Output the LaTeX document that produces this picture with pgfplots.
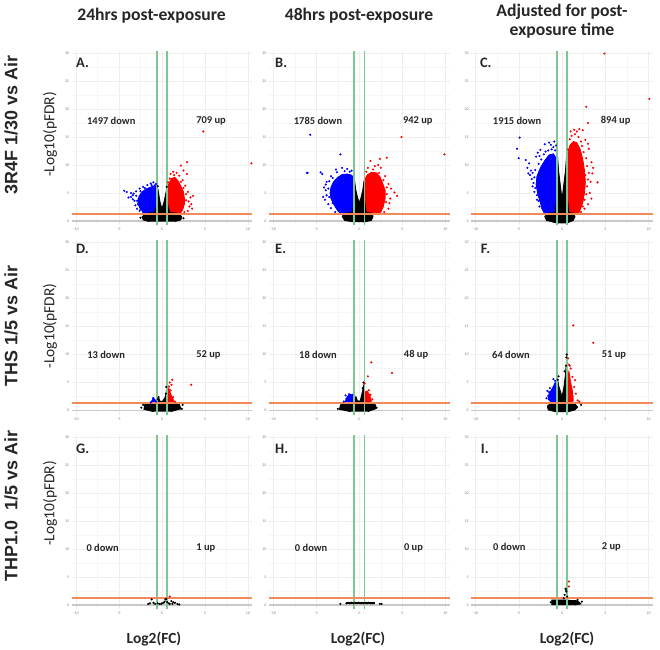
\documentclass[border=0pt]{standalone}
\usepackage{pgfplots}
\pgfplotsset{compat=1.18}
\usepackage{fontspec}
\setmainfont{Carlito}
\newfontfamily\arialb{Liberation Sans}
\definecolor{vgreen}{RGB}{125,200,145}
\definecolor{vorange}{RGB}{242,138,90}
\definecolor{vbase}{RGB}{200,200,200}
\definecolor{vblue}{RGB}{0,0,255}
\definecolor{vred}{RGB}{255,0,0}
\pgfplotsset{
 panel/.style={anchor=south west, x=8.6bp, y=5.6bp,
  xmin=-10.5, xmax=10.5, ymin=-0.8, ymax=30.4,
  axis line style={draw=none}, major tick length=0pt, minor tick length=0pt,
  xtick={-10,-5,0,5,10}, ytick={0,5,10,15,20,25,30},
  minor xtick={-7.5,-2.5,2.5,7.5}, minor ytick={2.5,7.5,12.5,17.5,22.5,27.5},
  grid=both, major grid style={gray!13, line width=0.5bp}, minor grid style={gray!7, line width=0.4bp},
  ticklabel style={font=\fontsize{4}{4}\selectfont, text=gray},
  /pgf/number format/assume math mode=true,
  xticklabel style={yshift=1bp}, yticklabel style={xshift=1bp},
  clip=false},
 bpt/.style={only marks, mark=*, mark size=0.85bp, color=vblue},
 rpt/.style={only marks, mark=*, mark size=0.85bp, color=vred},
 kpt/.style={only marks, mark=*, mark size=0.85bp, color=black},
 bf/.style={fill=vblue, draw=vblue, line width=0.8bp},
 rf/.style={fill=vred, draw=vred, line width=0.8bp},
 kf/.style={fill=black, draw=black, line width=0.8bp}
}
\tikzset{
 cnt/.style={font=\bfseries\fontsize{10.5}{10.5}\selectfont, text=black!85},
 plet/.style={font=\bfseries\fontsize{14.5}{14.5}\selectfont, anchor=west, inner sep=0pt, text=black!85}
}
\newcommand{\baseln}{\addplot[draw=vbase, line width=1.8bp, no marks] coordinates {(-10.5,0)(10.5,0)};}
\newcommand{\guides}{%
 \addplot[draw=vgreen, line width=1.6bp, no marks] coordinates {(-0.585,-0.8)(-0.585,30.4)};
 \addplot[draw=vgreen, line width=1.6bp, no marks] coordinates {(0.585,-0.8)(0.585,30.4)};
 \addplot[draw=vorange, line width=1.6bp, no marks] coordinates {(-10.5,1.3)(10.5,1.3)};}
\begin{document}
\begin{tikzpicture}
\path (0bp,0bp) rectangle (660bp,647bp);
% ---------------- A
\begin{axis}[panel, at={(71.7bp,421.5bp)}]
\baseln
\addplot[bf] coordinates {(-0.58,1.3)(-0.58,6.0)(-0.9,6.3)(-1.4,6.0)(-1.9,5.7)(-2.3,5.2)(-2.6,4.6)(-2.8,3.9)(-2.8,3.1)(-2.6,2.4)(-2.3,1.8)(-1.9,1.3)};
\addplot[bpt] coordinates {(-4.4,5.4)(-4.1,5.2)(-3.6,5.0)(-3.9,4.2)(-3.4,4.6)(-3.2,3.6)(-3.4,3.9)(-3.1,2.8)(-2.9,2.2)(-2.6,1.8)(-3.3,4.9)(-3.0,5.3)(-2.6,5.8)(-2.2,6.1)(-1.7,6.4)(-1.3,6.7)(-1.0,6.9)(-0.7,6.6)(-2.8,3.0)(-2.5,2.1)(-2.2,1.6)(-3.6,4.3)(-3.0,4.5)(-2.9,3.6)(-2.5,5.3)(-2.0,5.9)(-1.2,6.4)(-0.8,6.4)};
\addplot[rf] coordinates {(0.58,1.3)(0.58,5.6)(0.8,6.7)(1.1,7.6)(1.5,7.8)(1.9,7.1)(2.2,6.2)(2.5,5.2)(2.6,4.1)(2.6,3.0)(2.4,2.0)(2.1,1.3)};
\addplot[rpt] coordinates {(2.2,9.9)(2.9,10.5)(2.9,8.4)(3.6,4.5)(3.3,4.2)(3.1,3.5)(3.2,2.6)(3.0,1.8)(2.6,1.6)(2.4,7.3)(2.7,6.3)(3.0,5.2)(1.3,8.8)(1.7,8.6)(2.0,8.1)(1.0,8.4)(3.4,3.0)(3.5,2.2)(4.8,16)(10.4,10.3)(2.5,9.0)(0.9,7.6)(2.8,4.8)(2.8,3.7)(2.2,7.0)(1.4,8.2)(0.7,6.9)(2.5,5.9)};
\addplot[kf] coordinates {(-1.5,-0.1)(-2.2,0.2)(-2.3,0.8)(-1.8,1.4)(-0.9,1.5)(-0.6,3)(-0.55,6.3)(-0.4,5.0)(-0.2,3.2)(-0.05,2.5)(0.05,2.5)(0.2,3.2)(0.45,5.0)(0.58,6.0)(0.65,3)(0.9,1.5)(1.8,1.4)(2.3,0.8)(2.2,0.2)(1.5,-0.1)};
\addplot[kpt] coordinates {(-2.5,0.6)(2.5,0.5)(-0.5,6.2)(0.55,6.1)};
\guides
\node[plet] at (axis cs:-10,28.3) {A.};
\node[cnt] at (axis cs:-5.9,17.9) {1497 down};
\node[cnt] at (axis cs:5.7,17.9) {709 up};
\end{axis}
% ---------------- B
\begin{axis}[panel, at={(269bp,421.5bp)}]
\baseln
\addplot[bf] coordinates {(-0.58,1.3)(-0.58,7.6)(-0.9,8.2)(-1.4,8.4)(-2.0,8.3)(-2.5,7.8)(-3.0,7.0)(-3.3,6.0)(-3.4,5.0)(-3.3,4.0)(-2.9,2.8)(-2.5,1.8)(-2.1,1.3)};
\addplot[bpt] coordinates {(-5.7,15.4)(-2.2,11.9)(-6.1,8.6)(-6.0,8.6)(-4.5,8.7)(-4.3,8.4)(-4.2,4.3)(-3.9,6.5)(-3.9,5.5)(-4.0,3.8)(-3.6,3.0)(-3.3,2.3)(-2.8,1.6)(-3.3,8.0)(-2.7,9.2)(-2.0,9.5)(-1.4,9.3)(-0.9,9.0)(-3.8,7.0)(-4.1,6.0)(-3.8,4.6)(-3.5,7.1)(-3.6,5.8)(-3.5,4.3)(-3.1,3.2)(-2.6,8.7)(-1.7,8.9)(-1.1,8.8)(-3.1,7.7)};
\addplot[rf] coordinates {(0.58,1.3)(0.58,7.2)(0.9,8.2)(1.4,8.7)(2.0,8.6)(2.4,7.9)(2.7,6.8)(3.0,5.5)(3.0,4.0)(2.8,2.6)(2.5,1.6)(2.2,1.3)};
\addplot[rpt] coordinates {(1.3,10.7)(2.4,11.1)(3.2,11.3)(3.7,5.8)(4.1,5.1)(4.4,4.5)(4.9,15)(9.9,11.9)(3.5,3.2)(3.4,2.2)(2.9,1.6)(3.4,6.6)(3.0,8.0)(2.5,9.5)(1.8,9.8)(1.0,9.5)(3.6,4.0)(2.2,10.0)(3.2,4.8)(3.2,6.0)(2.8,7.3)(2.3,8.6)(1.6,9.2)(0.8,8.8)(3.1,3.4)};
\addplot[kf] coordinates {(-0.5,-0.2)(-1.7,0.1)(-2.0,0.8)(-1.7,1.4)(-0.8,1.5)(-0.62,3.5)(-0.55,7.2)(-0.4,5.5)(-0.2,4.2)(-0.05,3.5)(0.05,3.5)(0.2,4.2)(0.4,5.5)(0.55,7.2)(0.62,3.5)(0.8,1.5)(1.5,1.4)(1.6,0.8)(1.4,0.1)(0.5,-0.2)};
\guides
\node[plet] at (axis cs:-9.8,28.3) {B.};
\node[cnt] at (axis cs:-4.8,17.9) {1785 down};
\node[cnt] at (axis cs:6.8,17.9) {942 up};
\end{axis}
% ---------------- C
\begin{axis}[panel, at={(471.2bp,421.5bp)}, x=8.65bp]
\baseln
\addplot[bf] coordinates {(-0.58,1.3)(-0.58,11.0)(-1.0,12.0)(-1.5,11.8)(-2.0,10.8)(-2.5,9.5)(-2.9,8.0)(-3.0,6.5)(-2.8,4.8)(-2.5,3.2)(-2.2,1.8)(-2.0,1.3)};
\addplot[bpt] coordinates {(-4.9,14.9)(-5.2,12.9)(-5.0,11.2)(-4.2,10.9)(-3.8,10.3)(-3.6,9.0)(-3.7,8.2)(-3.5,7.5)(-3.4,6.2)(-3.2,5.2)(-2.9,3.8)(-2.6,2.6)(-3.0,11.5)(-2.5,12.7)(-2.0,13.7)(-1.5,14.0)(-0.9,14.2)(-2.8,12.2)(-4.0,9.5)(-3.9,8.5)(-1.2,12.8)(-1.6,12.6)(-2.1,11.9)(-2.4,11.0)(-2.7,10.2)(-3.1,9.1)(-3.2,7.8)(-3.3,6.8)(-3.1,5.9)(-2.9,4.6)(-2.7,3.6)(-0.8,12.6)(-1.0,13.2)(-1.9,12.4)(-2.3,2.3)(-0.7,13.5)(-3.4,8.6)(-2.6,11.6)(-1.3,13.6)};
\addplot[rf] coordinates {(0.58,1.3)(0.58,11.5)(0.9,13.5)(1.3,14.2)(1.7,14.0)(2.1,12.8)(2.4,11.0)(2.6,9.0)(2.7,7.0)(2.6,5.0)(2.4,3.3)(2.1,2.0)(1.9,1.3)};
\addplot[rpt] coordinates {(3.1,12.9)(4.1,6.9)(2.8,20.4)(3.0,17.5)(4.9,29.9)(10.1,21.8)(3.4,10.5)(3.5,8.5)(3.3,7.0)(3.2,5.0)(3.0,3.0)(2.6,2.2)(2.4,16.2)(2.0,16.4)(1.4,16.3)(1.0,16.0)(2.7,14.5)(3.6,9.5)(3.4,4.0)(3.0,13.8)(1.1,15.2)(1.5,15.5)(1.9,15.0)(2.2,14.2)(2.5,12.3)(2.8,11.2)(2.9,9.8)(3.1,8.6)(3.0,7.4)(2.9,6.2)(2.8,4.8)(2.6,3.8)(2.4,2.6)(0.9,14.6)(1.7,16.0)(2.3,13.4)(0.7,12.8)(2.7,8.2)(2.2,1.6)};
\addplot[kf] coordinates {(-0.5,-0.4)(-1.8,0.1)(-2.0,0.8)(-1.6,1.4)(-0.8,1.5)(-0.62,4)(-0.55,12.3)(-0.4,9)(-0.2,6.5)(-0.05,4.5)(0.05,4.5)(0.2,6.5)(0.4,9)(0.55,12.3)(0.62,4)(0.8,1.5)(1.3,1.4)(1.5,0.8)(1.3,0.1)(0.5,-0.4)};
\guides
\node[plet] at (axis cs:-9.5,28.3) {C.};
\node[cnt] at (axis cs:-5.2,17.9) {1915 down};
\node[cnt] at (axis cs:6.2,17.9) {894 up};
\end{axis}
% ---------------- D
\begin{axis}[panel, at={(71.7bp,232bp)}]
\baseln
\addplot[kf] coordinates {(-1.0,-0.2)(-2.1,0.2)(-2.0,1.2)(-1.3,1.5)(-0.6,1.6)(-0.4,2.3)(-0.2,1.6)(0.1,1.7)(0.4,2.5)(0.5,3.5)(0.58,4.1)(0.65,1.6)(1.5,1.4)(2.0,1.2)(2.2,0.3)(1.0,-0.2)};
\addplot[kpt] coordinates {(-2.4,0.5)(2.4,1.0)(2.3,0.3)(-2.2,1.0)(0.5,4.2)(0.45,3.0)(-0.4,2.4)(-0.5,2.0)};
\addplot[bf] coordinates {(-1.2,1.4)(-1.05,2.3)(-0.85,2.0)(-0.6,1.4)};
\addplot[bpt] coordinates {(-1.2,1.6)(-1.0,2.2)(-0.9,1.9)(-0.7,1.6)(-1.3,1.4)};
\addplot[rf] coordinates {(0.62,1.3)(0.65,3.5)(0.8,4.0)(1.0,3.0)(1.3,2.0)(1.4,1.3)};
\addplot[rpt] coordinates {(0.9,5.0)(1.2,5.5)(1.1,4.6)(3.4,4.6)(0.8,4.3)(1.5,1.6)(1.3,2.4)(1.0,3.6)};
\guides
\node[plet] at (axis cs:-10,28.8) {D.};
\node[cnt] at (axis cs:-6.5,9.9) {13 down};
\node[cnt] at (axis cs:5.4,9.9) {52 up};
\end{axis}
% ---------------- E
\begin{axis}[panel, at={(269bp,232bp)}]
\baseln
\addplot[kf] coordinates {(-1.0,-0.2)(-2.3,0.2)(-2.2,1.0)(-1.6,1.5)(-0.6,1.5)(-0.4,2.5)(-0.2,1.7)(0.1,1.7)(0.3,3.0)(0.55,4.7)(0.65,1.8)(1.3,1.4)(1.9,1.0)(1.9,0.3)(1.0,-0.2)};
\addplot[kpt] coordinates {(-2.5,0.3)(2.0,0.5)(0.5,5.0)(0.4,4.0)};
\addplot[bf] coordinates {(-1.7,1.4)(-1.4,2.5)(-1.0,2.9)(-0.65,2.5)(-0.62,1.4)};
\addplot[bpt] coordinates {(-1.6,2.7)(-1.2,2.9)(-0.8,2.8)(-1.8,1.6)(-1.5,2.1)};
\addplot[rf] coordinates {(0.62,1.3)(0.65,3.3)(0.9,3.5)(1.2,2.8)(1.4,1.7)(1.3,1.3)};
\addplot[rpt] coordinates {(0.62,4.8)(1.0,6.1)(1.4,8.6)(3.8,6.7)(1.3,2.8)(1.5,2.0)(1.1,3.6)};
\guides
\node[plet] at (axis cs:-9.8,28.8) {E.};
\node[cnt] at (axis cs:-4.8,9.9) {18 down};
\node[cnt] at (axis cs:6.6,9.9) {48 up};
\end{axis}
% ---------------- F
\begin{axis}[panel, at={(471.2bp,232bp)}, x=8.65bp]
\baseln
\addplot[kf] coordinates {(-0.5,-0.3)(-1.6,0.1)(-1.7,0.8)(-1.3,1.3)(-0.6,1.5)(-0.55,6.0)(-0.4,4.5)(-0.2,3.5)(0.0,2.5)(0.2,4.0)(0.4,6.5)(0.55,9.7)(0.62,5.0)(0.7,1.5)(1.5,1.2)(1.8,0.6)(1.5,0.1)(0.5,-0.3)};
\addplot[kpt] coordinates {(2.2,1.0)(0.5,9.5)(0.45,8.0)(0.3,7.0)(-0.4,6.1)(-0.5,5.5)(0.55,10.0)};
\addplot[bf] coordinates {(-0.62,1.4)(-0.65,4.5)(-0.8,5.0)(-1.1,4.0)(-1.5,3.0)(-1.6,2.0)(-1.2,1.4)};
\addplot[bpt] coordinates {(-1.7,3.5)(-1.6,2.6)(-1.4,4.0)(-1.0,5.6)(-0.8,5.3)(-1.8,2.2)(-1.3,2.0)(-1.5,3.3)};
\addplot[rf] coordinates {(0.62,1.3)(0.65,6.0)(0.8,7.0)(1.0,5.0)(1.2,3.5)(1.3,1.8)(1.1,1.3)};
\addplot[rpt] coordinates {(1.3,15.2)(3.6,12.1)(0.7,9.3)(0.8,8.2)(1.0,7.5)(1.2,6.0)(1.5,5.4)(1.4,4.2)(1.6,3.0)(1.8,1.8)(2.0,1.6)(1.2,2.5)(0.9,8.0)};
\guides
\node[plet] at (axis cs:-9.4,28.8) {F.};
\node[cnt] at (axis cs:-5.9,10.0) {64 down};
\node[cnt] at (axis cs:6.0,10.0) {51 up};
\end{axis}
% ---------------- G
\begin{axis}[panel, at={(71.7bp,37.5bp)}]
\baseln
\addplot[kpt] coordinates {(-1.6,0.2)(-1.2,1.0)(-1.0,0.4)(-0.8,0.2)(-0.5,0.3)(-0.3,0.2)(0.0,0.3)(0.2,0.4)(0.4,1.0)(0.5,1.1)(0.6,0.5)(0.8,0.3)(1.1,0.7)(1.3,0.5)(1.5,0.4)(1.8,0.2)(2.0,0.1)(-1.4,0.3)(0.3,0.6)(-0.1,0.2)(0.9,0.2)(1.2,0.2)};
\addplot[rpt] coordinates {(0.9,1.5)};
\guides
\node[plet] at (axis cs:-10,27.9) {G.};
\node[cnt] at (axis cs:-6.9,10.2) {0 down};
\node[cnt] at (axis cs:5.1,10.2) {1 up};
\end{axis}
% ---------------- H
\begin{axis}[panel, at={(269bp,37.5bp)}]
\baseln
\addplot[kf] coordinates {(-1.5,0.1)(-1.5,0.5)(1.8,0.5)(1.8,0.1)};
\addplot[kpt] coordinates {(-2.2,0.2)(-1.5,0.3)(-1.3,0.4)(-1.1,0.3)(-0.9,0.4)(-0.7,0.3)(-0.5,0.4)(-0.3,0.3)(-0.1,0.4)(0.1,0.3)(0.3,0.4)(0.5,0.3)(0.7,0.4)(0.9,0.3)(1.1,0.4)(1.3,0.3)(1.5,0.3)(1.7,0.3)(2.4,0.2)(2.6,0.2)};
\guides
\node[plet] at (axis cs:-9.8,27.9) {H.};
\node[cnt] at (axis cs:-5.6,10.2) {0 down};
\node[cnt] at (axis cs:6.3,10.2) {0 up};
\end{axis}
% ---------------- I
\begin{axis}[panel, at={(471.2bp,37.5bp)}, x=8.65bp]
\baseln
\addplot[kf] coordinates {(-1.0,0.0)(-1.2,0.1)(-1.2,0.9)(0.6,0.9)(1.0,0.8)(1.6,0.8)(2.0,0.5)(2.2,0.2)(1.5,0.0)};
\addplot[kpt] coordinates {(0.45,2.7)(0.4,2.9)(0.3,1.8)(0.5,2.4)(1.8,0.9)(2.3,0.6)(-1.3,0.5)(0.2,1.2)(0.6,1.5)};
\addplot[rpt] coordinates {(0.8,4.2)(0.8,3.3)};
\guides
\node[plet] at (axis cs:-9.4,27.9) {I.};
\node[cnt] at (axis cs:-6.1,10.3) {0 down};
\node[cnt] at (axis cs:5.7,10.3) {2 up};
\end{axis}
% ---------------- outer texts
\begin{scope}[every node/.style={text=black!85}]
\node[font=\bfseries\fontsize{17.7}{17.7}\selectfont] at (151.5bp,631bp) {24hrs post-exposure};
\node[font=\bfseries\fontsize{17.7}{17.7}\selectfont] at (359bp,631bp) {48hrs post-exposure};
\node[font=\bfseries\fontsize{17.7}{19.5}\selectfont, align=center] at (562bp,626bp) {Adjusted for post-\\exposure time};
\node[font=\arialb\bfseries\fontsize{18}{18}\selectfont, rotate=90] at (11bp,522bp) {3R4F 1/30 vs Air};
\node[font=\arialb\bfseries\fontsize{18}{18}\selectfont, rotate=90] at (11bp,321bp) {THS 1/5 vs Air};
\node[font=\arialb\bfseries\fontsize{18}{18}\selectfont, rotate=90] at (11bp,141bp) {THP1.0\ \ 1/5 vs Air};
\node[font=\fontsize{15.5}{15.5}\selectfont, rotate=90] at (50bp,512.5bp) {-Log10(pFDR)};
\node[font=\fontsize{15.5}{15.5}\selectfont, rotate=90] at (50bp,321bp) {-Log10(pFDR)};
\node[font=\fontsize{15.5}{15.5}\selectfont, rotate=90] at (50bp,143.5bp) {-Log10(pFDR)};
\node[font=\bfseries\fontsize{15.5}{15.5}\selectfont] at (154bp,8bp) {Log2(FC)};
\node[font=\bfseries\fontsize{15.5}{15.5}\selectfont] at (358bp,8bp) {Log2(FC)};
\node[font=\bfseries\fontsize{15.5}{15.5}\selectfont] at (567bp,8bp) {Log2(FC)};
\end{scope}
\end{tikzpicture}
\end{document}
